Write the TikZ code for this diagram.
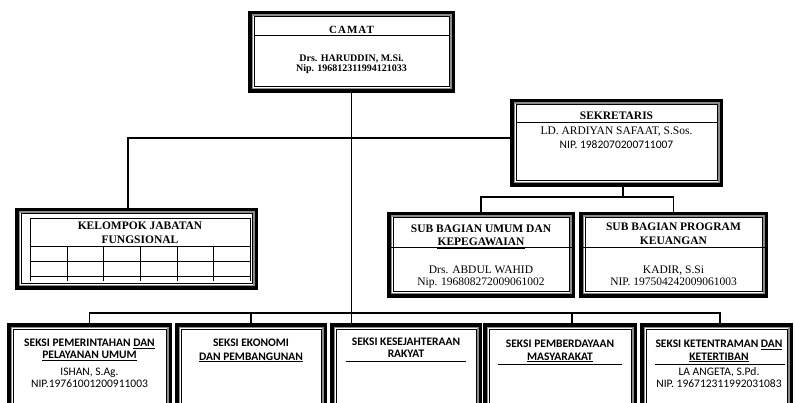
\documentclass[tikz,border=0pt]{standalone}
\usepackage{fontspec}
\setmainfont{Liberation Serif}
\newfontfamily\calfont{Carlito}
\usetikzlibrary{fit,calc}
\definecolor{framegray}{RGB}{140,140,140}
\newcommand\orgframe[5]{%
  \fill[black] (#1,#2) rectangle (#3,#4);
  \fill[framegray] (#1+3.5,#2+3.5) rectangle (#3-3.5,#4-3.5);
  \fill[white] (#1+5,#2+5) rectangle (#3-5,#4-5);
  \draw[line width=1pt] (#1+6,#2+6) rectangle (#3-6,#4-6);
  \node[inner sep=0pt, outer sep=0pt, fit={(#1,#2) (#3,#4)}] (#5) {};
}
\tikzset{
  conn/.style={line width=1.4pt},
  thin/.style={line width=0.9pt},
  tb/.style={font=\fontsize{11.5}{12}\selectfont\bfseries, inner sep=0pt, anchor=base},
  tbs/.style={font=\fontsize{10}{10}\selectfont\bfseries, inner sep=0pt, anchor=base},
  tr/.style={font=\fontsize{11.5}{12}\selectfont, inner sep=0pt, anchor=base},
  cb/.style={font=\calfont\fontsize{11.5}{12}\selectfont\bfseries, inner sep=0pt, anchor=base},
  cr/.style={font=\calfont\fontsize{11.5}{12}\selectfont, inner sep=0pt, anchor=base},
}
\begin{document}
\begin{tikzpicture}[x=1pt,y=-1pt]
\clip (0,0) rectangle (795,403);
\fill[white] (0,0) rectangle (795,403);

% ---------- frames ----------
\orgframe{248}{11}{455}{93}{camat}
\orgframe{510}{99}{723}{187}{sek}
\orgframe{15}{208}{258}{290}{kel}
\orgframe{387}{212}{575}{298}{sub1}
\orgframe{579}{212}{768}{298}{sub2}
\orgframe{7}{323}{172}{410}{b1}
\orgframe{175}{323}{327}{410}{b2}
\orgframe{330}{323}{482}{410}{b3}
\orgframe{483}{323}{637}{410}{b4}
\orgframe{640}{323}{793}{410}{b5}

% ---------- dividers ----------
\draw[thin] (254,35.5) -- (449,35.5);
\draw[thin] (516,122) -- (717,122);
\draw[thin] (390,247) -- (572,247);
\draw[thin] (582,247) -- (765,247);

% ---------- CAMAT ----------
\node[tbs, font=\fontsize{11}{11}\selectfont\bfseries] (t-camat) at (351.5,34) {\addfontfeature{LetterSpace=9}CAMAT};
\node[tbs] (t-camat2) at (351.5,61.7) {Drs. HARUDDIN, M.Si.};
\node[tbs] (t-camat3) at (351.5,71.7) {Nip. 196812311994121033};

% ---------- SEKRETARIS ----------
\node[tb] (t-sek) at (616.5,119.3) {SEKRETARIS};
\node[tr] (t-sek2) at (616.5,135) {LD. ARDIYAN SAFAAT, S.Sos.};
\node[cr] (t-sek3) at (616.5,148.3) {NIP. 1982070200711007};

% ---------- KELOMPOK ----------
\draw[thin] (30,281) -- (30,218) -- (250,218) -- (250,281);
\draw[thin] (30,246) -- (250,246);
\draw[thin] (30,261) -- (250,261);
\draw[thin] (30,276) -- (250,276);
\foreach \cx in {67,103,140,177,213} { \draw[thin] (\cx,246) -- (\cx,281); }
\node[tb] (t-kel) at (140,229.3) {KELOMPOK JABATAN};
\node[tb] (t-kel2) at (140,244) {FUNGSIONAL};

% ---------- SUB BAGIAN ----------
\node[tb] (t-s1a) at (481,232.7) {SUB BAGIAN UMUM DAN};
\node[tb] (t-s1b) at (481,245.3) {KEPEGAWAIAN};
\node[tr] (t-s1c) at (481,273.3) {Drs. ABDUL WAHID};
\node[tr] (t-s1d) at (481,285.7) {Nip. 196808272009061002};
\node[tb] (t-s2a) at (673.5,230.7) {SUB BAGIAN PROGRAM};
\node[tb] (t-s2b) at (673.5,245) {KEUANGAN};
\node[tr] (t-s2c) at (673.5,273.3) {KADIR, S.Si};
\node[tr] (t-s2d) at (673.5,285.7) {NIP. 197504242009061003};
\draw[line width=1.8pt] ($(t-s1b.base west)+(0,2.6)$) -- ($(t-s1b.base east)+(0,2.6)$);
\draw[line width=1.8pt] ($(t-s2b.base west)+(0,2.6)$) -- ($(t-s2b.base east)+(0,2.6)$);

% ---------- SEKSI ----------
\node[cb] (t-b1a) at (89.5,346.7) {SEKSI PEMERINTAHAN \underline{DAN}};
\node[cb] (t-b1b) at (89.5,358.7) {\underline{PELAYANAN UMUM}};
\node[cr] (t-b1c) at (89.5,375) {ISHAN, S.Ag.};
\node[cr] (t-b1d) at (89.5,387.3) {NIP.19761001200911003};

\node[cb] (t-b2a) at (251,346.7) {SEKSI EKONOMI};
\node[cb] (t-b2b) at (251,360) {\underline{DAN PEMBANGUNAN}};

\node[cb] (t-b3a) at (406,345) {SEKSI KESEJAHTERAAN};
\node[cb] (t-b3b) at (406,357.3) {RAKYAT};
\draw[thin] (346,361.7) -- (466,361.7);

\node[cb] (t-b4a) at (560,347.7) {SEKSI PEMBERDAYAAN};
\node[cb] (t-b4b) at (560,360) {\underline{MASYARAKAT}};
\draw[thin] (498,364) -- (622,364);

\node[cb] (t-b5a) at (719,347.3) {SEKSI KETENTRAMAN \underline{DAN}};
\node[cb] (t-b5b) at (719,360) {\underline{KETERTIBAN}};
\draw[thin] (655,364) -- (785,364);
\node[cr] (t-b5c) at (719,375) {LA ANGETA, S.Pd.};
\node[cr] (t-b5d) at (719,387.3) {NIP. 196712311992031083};

% ---------- connectors ----------
\draw[conn] (camat.south) -- (camat.south |- b3.north);
\coordinate (jk) at (128,138);
\draw[conn] (sek.west |- jk) -- (jk) -- (jk |- kel.north);
\coordinate (js) at (623,197);
\draw[conn] (js |- sek.south) -- (js);
\draw[conn] (sub1.north) |- (js) -| (sub2.north);
\coordinate (busL) at (90,313);
\coordinate (busR) at (720,313);
\draw[conn] (b1.north) -- (b1.north |- busL) -- (busR) -- (busR |- b5.north);
\draw[conn] (b2.north) -- (b2.north |- busL);
\coordinate (j4) at (572,313);
\draw[conn] (j4) -- (j4 |- b4.north);
\end{tikzpicture}
\end{document}
